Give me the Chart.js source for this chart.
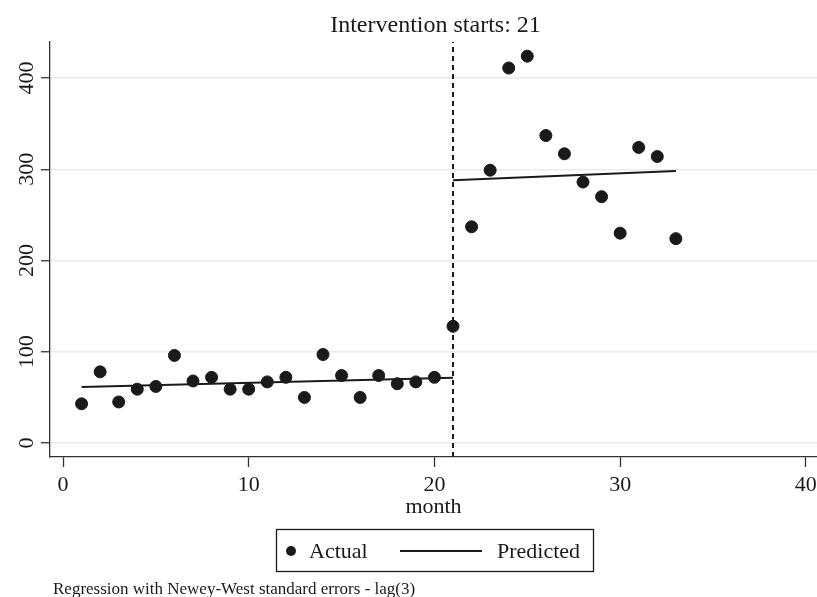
<!DOCTYPE html>
<html>
<head>
<meta charset="utf-8">
<script src="https://cdn.jsdelivr.net/npm/chart.js@4"></script>
<style>
  html, body { margin: 0; padding: 0; background: #fff; }
  #wrap { width: 817px; height: 597px; }
</style>
</head>
<body>
<div id="wrap"><canvas id="chart"></canvas></div>
<script>
// monthly counts
const months = [1, 2, 3, 4, 5, 6, 7, 8, 9, 10, 11, 12, 13, 14, 15, 16, 17, 18, 19, 20, 21, 22, 23, 24, 25, 26, 27, 28, 29, 30, 31, 32, 33];
const actual = [43, 78, 45, 59, 62, 96, 68, 72, 59, 59, 67, 72, 50, 97, 74, 50, 74, 65, 67, 72, 128, 237, 299, 411, 424, 337, 317, 286, 270, 230, 324, 314, 224];

// fitted segments (endpoints of each straight line)
const preMonths = [1, 21];
const prePredicted = [61.4, 71.6];
const postMonths = [21, 33];
const postPredicted = [287.9, 298.1];

const interventionMonth = 21;
const xTicks = [0, 10, 20, 30, 40];
const yTicks = [0, 100, 200, 300, 400];
const xMin = -0.7, xMax = 40.6;
const yMin = -15.3, yMax = 439.5;

const titleText = 'Intervention starts: ' + interventionMonth;
const xTitle = 'month';
const note = 'Regression with Newey-West standard errors - lag(3)';

const serif = '"Liberation Serif", "Times New Roman", serif';
const ink = '#1a1a1a';

const toPoints = (xs, ys) => xs.map((x, i) => ({ x: x, y: ys[i] }));

// title, axis title, legend box and note
const extras = {
  id: 'extras',
  afterDraw(chart) {
    const ctx = chart.ctx;
    const area = chart.chartArea;
    const cx = (area.left + area.right) / 2;
    ctx.save();
    ctx.fillStyle = ink;
    ctx.textBaseline = 'alphabetic';

    ctx.font = '24px ' + serif;
    ctx.textAlign = 'center';
    ctx.fillText(titleText, cx + 2, 32);

    ctx.font = '22px ' + serif;
    ctx.fillText(xTitle, cx, 513);

    // legend
    ctx.strokeStyle = ink;
    ctx.lineWidth = 1.3;
    ctx.strokeRect(276.5, 529.5, 317, 42);
    ctx.beginPath();
    ctx.arc(291, 551, 5, 0, Math.PI * 2);
    ctx.fill();
    ctx.textAlign = 'left';
    ctx.fillText(chart.data.datasets[0].label, 309, 558);
    ctx.lineWidth = 2;
    ctx.beginPath();
    ctx.moveTo(400, 551);
    ctx.lineTo(482, 551);
    ctx.stroke();
    ctx.fillText(chart.data.datasets[1].label, 497, 558);

    ctx.font = '17px ' + serif;
    ctx.fillText(note, 53, 594);
    ctx.restore();
  }
};

new Chart(document.getElementById('chart'), {
  type: 'scatter',
  data: {
    datasets: [
      {
        label: 'Actual',
        data: toPoints(months, actual),
        backgroundColor: ink,
        borderColor: ink,
        pointRadius: 6,
        pointHoverRadius: 6,
        order: 0
      },
      {
        label: 'Predicted',
        data: toPoints(preMonths, prePredicted),
        showLine: true,
        borderColor: ink,
        borderWidth: 2,
        pointRadius: 0,
        order: 1
      },
      {
        label: 'Predicted',
        data: toPoints(postMonths, postPredicted),
        showLine: true,
        borderColor: ink,
        borderWidth: 2,
        pointRadius: 0,
        order: 1
      },
      {
        label: 'Intervention',
        data: toPoints([interventionMonth, interventionMonth], [yMin, yMax]),
        showLine: true,
        borderColor: ink,
        borderWidth: 2,
        borderDash: [5, 4],
        pointRadius: 0,
        order: 2
      }
    ]
  },
  options: {
    responsive: true,
    maintainAspectRatio: false,
    animation: false,
    layout: { autoPadding: false, padding: { left: 0, right: 0, top: 42, bottom: 0 } },
    plugins: {
      legend: { display: false },
      tooltip: { enabled: false }
    },
    scales: {
      x: {
        type: 'linear',
        min: xMin,
        max: xMax,
        afterFit: s => { s.height = 140; s.paddingLeft = 0; s.paddingRight = 0; },
        afterBuildTicks: s => { s.ticks = xTicks.map(v => ({ value: v })); },
        grid: { drawOnChartArea: false, tickLength: 10, tickColor: '#333', tickWidth: 1.3 },
        border: { color: '#333', width: 1.3 },
        ticks: { color: ink, padding: 5, maxRotation: 0, font: { family: serif, size: 22 } }
      },
      y: {
        type: 'linear',
        min: yMin,
        max: yMax,
        afterFit: s => { s.width = 50; s.paddingTop = 0; s.paddingBottom = 0; },
        afterBuildTicks: s => { s.ticks = yTicks.map(v => ({ value: v })); },
        grid: { color: '#ebebeb', lineWidth: 1.5, tickLength: 9, tickColor: '#333', tickWidth: 1.3 },
        border: { color: '#333', width: 1.3 },
        ticks: { color: ink, padding: -3, minRotation: 90, maxRotation: 90, crossAlign: 'center', font: { family: serif, size: 22 } }
      }
    }
  },
  plugins: [extras]
});
</script>
</body>
</html>
